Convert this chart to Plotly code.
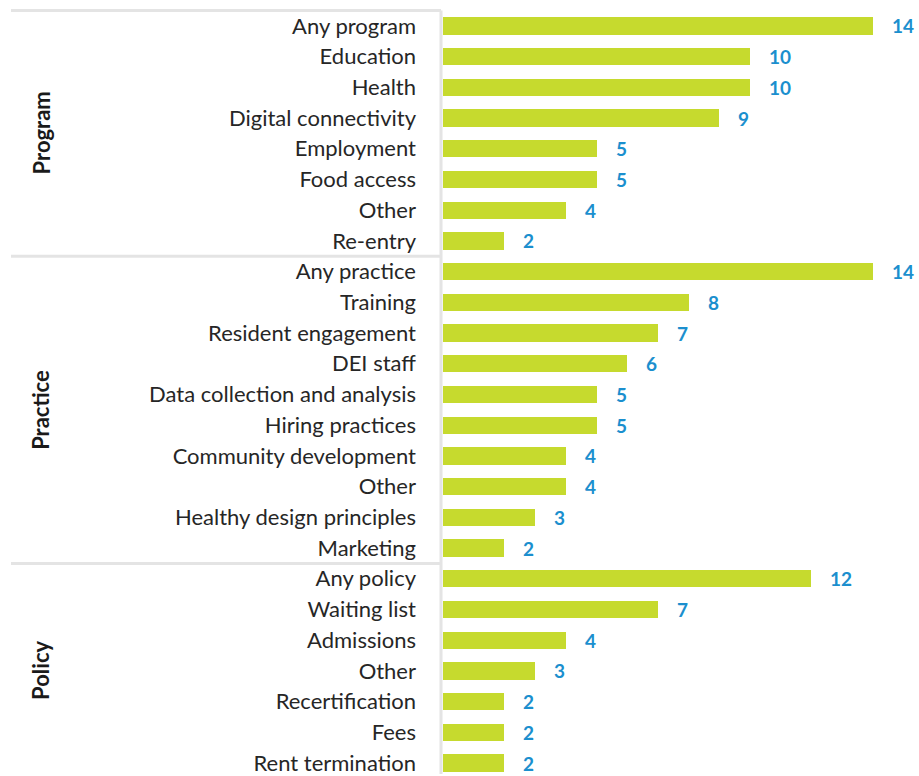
import plotly.graph_objects as go

groups = ["Program", "Practice", "Policy"]
program_labels = ["Any program", "Education", "Health", "Digital connectivity", "Employment",
                  "Food access", "Other", "Re-entry"]
program_values = [14, 10, 10, 9, 5, 5, 4, 2]
practice_labels = ["Any practice", "Training", "Resident engagement", "DEI staff",
                   "Data collection and analysis", "Hiring practices", "Community development",
                   "Other", "Healthy design principles", "Marketing"]
practice_values = [14, 8, 7, 6, 5, 5, 4, 4, 3, 2]
policy_labels = ["Any policy", "Waiting list", "Admissions", "Other", "Recertification",
                 "Fees", "Rent termination"]
policy_values = [12, 7, 4, 3, 2, 2, 2]

group_labels = [program_labels, practice_labels, policy_labels]
group_values = [program_values, practice_values, policy_values]

labels = [l for g in group_labels for l in g]
values = [v for g in group_values for v in g]
pos = list(range(len(labels)))

W, H = 919, 776
L = 443
BAR = "#C6DA2E"
BLUE = "#1B8FCE"
GRID = "#E4E4E4"
FONT = "Lato"

y_top, y_bot = -0.844, 24.357  # axis range (reversed)

def ypaper(v):
    return 1 - (v - y_top) / (y_bot - y_top)

fig = go.Figure()
fig.add_trace(go.Bar(
    x=values, y=pos, orientation="h", marker=dict(color=BAR, line=dict(width=0)),
    width=0.56, hoverinfo="skip",
))

for p, v in zip(pos, values):
    fig.add_annotation(x=v, y=p, text=f"<b>{v}</b>", showarrow=False, xanchor="left",
                       yanchor="middle", xshift=17, font=dict(family=FONT, size=19, color=BLUE))

xrange_max = (W - L) / 30.7
def xpaper(px):
    return (px - L) / (W - L)

# group separators
shapes = []
start = 0
boundaries = []
for g in group_labels:
    boundaries.append(start - 0.5)
    start += len(g)
for b in boundaries:
    shapes.append(dict(type="line", xref="paper", yref="paper", x0=xpaper(11), x1=xpaper(441),
                       y0=ypaper(b), y1=ypaper(b), line=dict(color=GRID, width=3), layer="below"))
shapes.append(dict(type="line", xref="paper", yref="paper", x0=xpaper(441), x1=xpaper(441),
                   y0=ypaper(-0.5), y1=0, line=dict(color=GRID, width=3), layer="below"))

start = 0
for name, g in zip(groups, group_labels):
    mid = start + (len(g) - 1) / 2
    fig.add_annotation(xref="paper", yref="paper", x=xpaper(41), y=ypaper(mid),
                       xanchor="center", yanchor="middle",
                       text=f"<b>{name}</b>", textangle=-90, showarrow=False,
                       font=dict(family=FONT, size=22, color="#1a1a1a"))
    start += len(g)

fig.update_layout(
    width=W, height=H, margin=dict(l=L, r=0, t=0, b=0),
    paper_bgcolor="white", plot_bgcolor="white", showlegend=False,
    shapes=shapes, bargap=0,
    xaxis=dict(range=[0, xrange_max], visible=False, fixedrange=True),
    yaxis=dict(range=[y_bot, y_top], tickvals=pos, ticktext=labels, showgrid=False,
               zeroline=False, showline=False, ticks="", ticklabelstandoff=26,
               ticklabeloverflow="allow",
               tickfont=dict(family=FONT, size=22, color="#262626")),
)

fig.write_html("out.html")
